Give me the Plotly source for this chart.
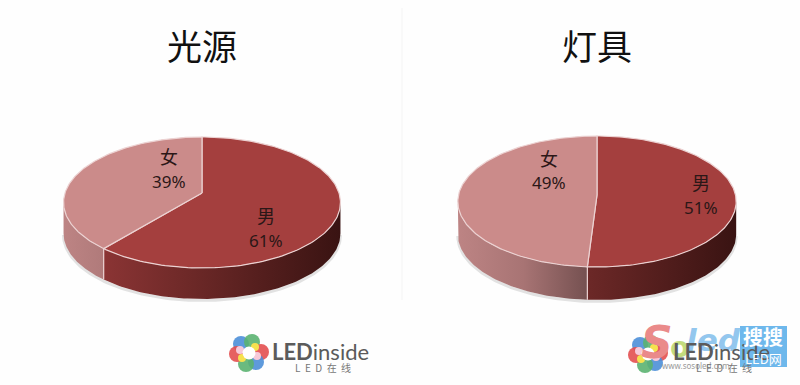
import numpy as np
import plotly.graph_objects as go

categories = ["男", "女"]
light_source_share = [61, 39]
fixture_share = [51, 49]
chart_titles = ["光源", "灯具"]

TOP_COLORS = {"男": "#a43f3e", "女": "#cb8b8a"}
SIDE_SCALES = {
    "男": [[0, "#8a3434"], [0.35, "#6e2928"], [1, "#391312"]],
    "女": [[0, "#bd8484"], [0.5, "#a87474"], [1, "#745050"]],
}
RIM = "#ecd2d2"
CJK = "Noto Sans CJK SC"

# pie geometry (pixels on the hidden 800x385 axes)
pies = [
    dict(vals=light_source_share, title=chart_titles[0], cx=202, apex=193, top=137, bottom=268,
         R=137.0, depth=31, title_x=202,
         lab={"男": (266, 215, 240), "女": (169, 156, 181)}),
    dict(vals=fixture_share, title=chart_titles[1], cx=597, apex=195, top=136, bottom=267,
         R=138.5, depth=33, title_x=597,
         lab={"男": (701, 182, 207), "女": (549, 158, 182)}),
]


def projector(p):
    """Tilted-disc projection: theta clockwise from the top of the pie."""
    b = p["apex"]
    c = (2 * b - p["top"] - p["bottom"]) / (p["bottom"] - p["top"])
    a = p["bottom"] * (1 + c) - b

    def f(theta):
        u, v = np.sin(theta), -np.cos(theta)
        d = 1 + c * v
        return p["cx"] + p["R"] * u / d, (a * v + b) / d

    return f, c


fig = go.Figure()

for p in pies:
    proj, c = projector(p)
    ext = np.arccos(c)
    shares = np.array(p["vals"], dtype=float)
    edges = np.concatenate([[0], np.cumsum(shares) / shares.sum() * 2 * np.pi])

    # soft shadow below the disc wall
    t = np.linspace(ext, 2 * np.pi - ext, 120)
    sx, sy = proj(t)
    fig.add_trace(go.Scatter(x=sx, y=sy + p["depth"] + 1.5, mode="lines",
                             line=dict(color="#e2e2e2", width=3), hoverinfo="skip"))

    left, right = proj(2 * np.pi - ext)[0], proj(ext)[0]

    # side walls
    for i, cat in enumerate(categories):
        lo, hi = max(edges[i], ext), min(edges[i + 1], 2 * np.pi - ext)
        if hi <= lo:
            continue
        t = np.linspace(lo, hi, 100)
        x, y = proj(t)
        xs = np.concatenate([x, x[::-1], x[:1]])
        ys = np.concatenate([y, y[::-1] + p["depth"], y[:1]])
        if cat == "男":
            start, stop = left + (right - left) * 0.15, right
        else:
            start, stop = left, left + (right - left) * 0.47
        fig.add_trace(go.Scatter(
            x=xs, y=ys, mode="lines", line=dict(width=0), fill="toself",
            fillgradient=dict(type="horizontal", colorscale=SIDE_SCALES[cat], start=start, stop=stop),
            hoverinfo="skip"))

    # pale seam where the two slices meet on the wall
    seam_x, seam_y = proj(edges[1])
    fig.add_trace(go.Scatter(x=[seam_x, seam_x], y=[seam_y, seam_y + p["depth"]], mode="lines",
                             line=dict(color=RIM, width=1.2), hoverinfo="skip"))

    # top face wedges
    for i, cat in enumerate(categories):
        t = np.linspace(edges[i], edges[i + 1], 160)
        x, y = proj(t)
        xs = np.concatenate([[p["cx"]], x, [p["cx"]]])
        ys = np.concatenate([[p["apex"]], y, [p["apex"]]])
        fig.add_trace(go.Scatter(x=xs, y=ys, mode="lines", fill="toself",
                                 fillcolor=TOP_COLORS[cat], line=dict(color=RIM, width=1.2),
                                 hoverinfo="skip"))

    # labels
    for cat, share in zip(categories, p["vals"]):
        lx, y1, y2 = p["lab"][cat]
        fig.add_annotation(x=lx, y=y1, text=cat, showarrow=False,
                           font=dict(family=CJK, size=18, color="#2b1717"))
        fig.add_annotation(x=lx, y=y2, text=f"{share}%", showarrow=False,
                           font=dict(family="Noto Sans", size=17, color="#2b1717"))

    fig.add_annotation(x=p["title_x"], y=44, text=p["title"], showarrow=False,
                       font=dict(family=CJK, size=35, color="#111111"))

# watermark behind the right logo
fig.add_annotation(x=657, y=342, text="<b><i>S</i></b>", showarrow=False,
                   font=dict(family="DejaVu Sans", size=44, color="#ea8a8a"))
fig.add_annotation(x=679, y=347, text="<b>o</b>", showarrow=False,
                   font=dict(family="DejaVu Sans", size=28, color="#c3db7e"))
fig.add_annotation(x=713, y=340, text="<b><i>led</i></b>", showarrow=False,
                   font=dict(family="DejaVu Sans", size=31, color="#93c7ee"))
fig.add_annotation(x=696, y=365, text="www.sosoled.com", showarrow=False,
                   font=dict(family="Noto Sans", size=8, color="#9a9a9a"))

# logos
logo_colors = ["#4c8fd8", "#5bb271", "#e34f50", "#4c8fd8", "#5bb271", "#e34f50"]
logo_dx = [-8, 3, 12, 7, -3, -12]
logo_dy = [-9, -11, -1, 9, 11, 1]
inner_colors = ["#f6e14f", "#f6e14f", "#f7c9d9", "#f7c9d9"]
inner_dx = [6, -7, -9, 8]
inner_dy = [-6, 5, -3, 3]
for lcx, lcy, tcx in [(249, 353, 320), (648, 354, 721)]:
    fig.add_trace(go.Scatter(
        x=[lcx + d for d in logo_dx], y=[lcy + d for d in logo_dy],
        mode="markers", marker=dict(size=16, color=logo_colors, opacity=0.9), hoverinfo="skip"))
    fig.add_trace(go.Scatter(
        x=[lcx + d for d in inner_dx], y=[lcy + d for d in inner_dy],
        mode="markers", marker=dict(size=8, color=inner_colors), hoverinfo="skip"))
    fig.add_trace(go.Scatter(x=[lcx], y=[lcy], mode="markers",
                             marker=dict(size=13, color="#ffffff"), hoverinfo="skip"))
    fig.add_annotation(x=tcx, y=351, text="<b>LED</b>inside", showarrow=False,
                       font=dict(family="Lato", size=22, color="#5b5b5b"))
    fig.add_annotation(x=tcx + 3, y=367, text="L  E  D  在  线", showarrow=False,
                       font=dict(family=CJK, size=10, color="#777777"))

# blue watermark badge
fig.add_shape(type="rect", x0=740, x1=787, y0=326, y1=367, layer="above",
              fillcolor="#62b2ea", line=dict(width=0), opacity=0.92)
fig.add_annotation(x=763, y=336, text="<b>搜搜</b>", showarrow=False,
                   font=dict(family=CJK, size=20, color="#ffffff"))
fig.add_annotation(x=763, y=358, text="LED网", showarrow=False,
                   font=dict(family=CJK, size=13, color="#ffffff"))

# faint divider between the two panels
fig.add_shape(type="line", x0=402, x1=402, y0=8, y1=300, layer="below",
              line=dict(color="#f4f4f4", width=1))

fig.update_layout(
    width=800, height=385, margin=dict(l=0, r=0, t=0, b=0), autosize=False,
    paper_bgcolor="#fefefe", plot_bgcolor="#fefefe", showlegend=False,
    xaxis=dict(range=[0, 800], visible=False, fixedrange=True),
    yaxis=dict(range=[385, 0], visible=False, fixedrange=True),
)
fig.write_html("out.html", config=dict(displayModeBar=False),
               post_script="document.body.style.margin='0';document.documentElement.style.overflow='hidden';")
